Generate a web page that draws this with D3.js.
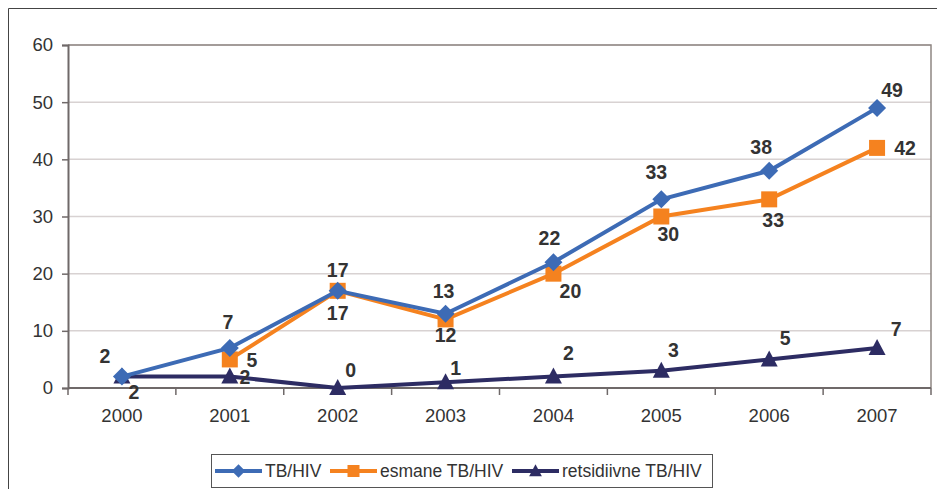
<!DOCTYPE html>
<html>
<head>
<meta charset="utf-8">
<script src="https://cdn.jsdelivr.net/npm/d3@7"></script>
<style>
  body { margin: 0; background: #fff; }
  #content { width: 937px; height: 489px; }
  text { font-family: "Liberation Sans", Arial, sans-serif; fill: #333; }
</style>
</head>
<body>
<div id="content"></div>
<script>
var years = ["2000", "2001", "2002", "2003", "2004", "2005", "2006", "2007"];
var tbHiv = [2, 7, 17, 13, 22, 33, 38, 49];
var esmane = [null, 5, 17, 12, 20, 30, 33, 42];
var retsidiivne = [2, 2, 0, 1, 2, 3, 5, 7];
var yTicks = [0, 10, 20, 30, 40, 50, 60];
var seriesNames = ["TB/HIV", "esmane TB/HIV", "retsidiivne TB/HIV"];
// label offsets (dx, dy) per point, as placed in the original chart
var tbHivLabelPos = [[-17, -20], [-2, -26], [0, -21], [-2, -23], [-4, -24], [-5, -27], [-8, -24], [15, -18]];
var esmaneLabelPos = [null, [22, 1], [0, 22], [0, 16], [17, 18], [7, 18], [4, 21], [28, 0]];
var retsLabelPos = [[12, 16], [15, 1], [13, -18], [10, -14], [15, -23], [12, -21], [16, -21], [19, -19]];

(function(d3) {
    var width = 937, height = 489;
    var margin = {top: 45, right: 6, bottom: 101, left: 68};

    var svg = d3.select("#content").append("svg")
        .attr("viewBox", [0, 0, width, height])
        .attr("width", width).attr("height", height);

    // outer frame (only top and left edges visible)
    svg.append("path")
        .attr("d", "M8.5," + height + "V8.5H" + width)
        .attr("fill", "none").attr("stroke", "#444").attr("stroke-width", 1);

    var x = d3.scaleBand()
        .domain(years)
        .range([margin.left, width - margin.right]);
    var y = d3.scaleLinear()
        .domain([0, 60])
        .range([height - margin.bottom, margin.top]);

    // gridlines
    svg.append("g").selectAll("line")
        .data(yTicks.slice(1))
        .join("line")
        .attr("x1", margin.left).attr("x2", width - margin.right)
        .attr("y1", function(d) { return y(d); }).attr("y2", function(d) { return y(d); })
        .attr("stroke", "#d8d2d2").attr("stroke-width", 1.5);

    // plot border top/right
    svg.append("path")
        .attr("d", "M" + margin.left + "," + y(60) + "H" + (width - margin.right) + "V" + y(0))
        .attr("fill", "none").attr("stroke", "#8f8683").attr("stroke-width", 1.5);

    var yAxis = svg.append("g")
        .attr("transform", "translate(" + margin.left + ",0)")
        .call(d3.axisLeft(y).tickValues(yTicks).tickSize(6).tickPadding(9));
    var boundaries = years.map(function(d) { return x(d); }).concat([width - margin.right]);
    var xAxis = svg.append("g")
        .attr("transform", "translate(0," + y(0) + ")");
    xAxis.append("line")
        .attr("x1", margin.left).attr("x2", width - margin.right)
        .attr("stroke", "#6f6969").attr("stroke-width", 2);
    xAxis.selectAll(".tk").data(boundaries).join("line")
        .attr("x1", function(d) { return d; }).attr("x2", function(d) { return d; })
        .attr("y1", 0).attr("y2", 7)
        .attr("stroke", "#6f6969").attr("stroke-width", 1.5);
    xAxis.selectAll("text").data(years).join("text")
        .attr("x", function(d) { return x(d) + x.bandwidth() / 2; })
        .attr("y", 34)
        .attr("text-anchor", "middle")
        .style("font-size", "18.5px")
        .text(function(d) { return d; });

    yAxis.select(".domain").attr("stroke", "#6f6969").attr("stroke-width", 2);
    yAxis.selectAll(".tick line").attr("stroke", "#6f6969").attr("stroke-width", 1.5);
    yAxis.selectAll(".tick text").style("font-size", "18.5px").attr("fill", "#333")
        .style("font-family", "'Liberation Sans', Arial, sans-serif");

    var cx = function(i) { return x(years[i]) + x.bandwidth() / 2; };

    function marker(sel, shape, color) {
        if (shape === "diamond") {
            sel.append("path").attr("d", "M0,-9L9,0L0,9L-9,0Z").attr("fill", color);
        } else if (shape === "square") {
            sel.append("rect").attr("x", -8).attr("y", -8).attr("width", 16).attr("height", 16).attr("fill", color);
        } else {
            sel.append("path").attr("d", "M0,-9L8.5,7L-8.5,7Z").attr("fill", color);
        }
    }

    function drawSeries(values, color, shape, labelPos) {
        var pts = values.map(function(v, i) { return [i, v]; }).filter(function(d) { return d[1] !== null; });
        svg.append("path")
            .datum(pts)
            .attr("fill", "none")
            .attr("stroke", color)
            .attr("stroke-width", 4)
            .attr("d", d3.line()
                .x(function(d) { return cx(d[0]); })
                .y(function(d) { return y(d[1]); }));
        var g = svg.append("g").selectAll("g")
            .data(pts).join("g")
            .attr("transform", function(d) { return "translate(" + cx(d[0]) + "," + y(d[1]) + ")"; });
        g.each(function() { marker(d3.select(this), shape, color); });
        return pts.map(function(d) { return { i: d[0], v: d[1], pos: labelPos[d[0]] }; });
    }

    var labels = []
        .concat(drawSeries(retsidiivne, "#2d2c63", "triangle", retsLabelPos))
        .concat(drawSeries(esmane, "#f5821f", "square", esmaneLabelPos))
        .concat(drawSeries(tbHiv, "#3d6bb5", "diamond", tbHivLabelPos));

    svg.append("g").selectAll("text")
        .data(labels).join("text")
        .attr("x", function(d) { return cx(d.i) + d.pos[0]; })
        .attr("y", function(d) { return y(d.v) + d.pos[1]; })
        .attr("text-anchor", "middle")
        .attr("dy", "0.35em")
        .style("font-size", "19.5px")
        .style("font-weight", "bold")
        .text(function(d) { return d.v; });

    // legend
    var legend = svg.append("g");
    legend.append("rect")
        .attr("x", 211.5).attr("y", 454.5).attr("width", 501).attr("height", 33)
        .attr("fill", "#fff").attr("stroke", "#555").attr("stroke-width", 1);
    var legendItems = [
        {name: seriesNames[0], color: "#3d6bb5", shape: "diamond", x: 215},
        {name: seriesNames[1], color: "#f5821f", shape: "square", x: 330},
        {name: seriesNames[2], color: "#2d2c63", shape: "triangle", x: 512}
    ];
    var li = legend.selectAll("g.item").data(legendItems).join("g")
        .attr("transform", function(d) { return "translate(" + d.x + ",471)"; });
    li.append("line").attr("x1", 0).attr("x2", 47)
        .attr("stroke", function(d) { return d.color; }).attr("stroke-width", 4);
    li.each(function(d) {
        var m = d3.select(this).append("g").attr("transform", "translate(23.5,0) scale(0.75)");
        marker(m, d.shape, d.color);
    });
    li.append("text").attr("x", 50).attr("dy", "0.35em")
        .style("font-size", "17.5px")
        .text(function(d) { return d.name; });

})(d3);
</script>
</body>
</html>
